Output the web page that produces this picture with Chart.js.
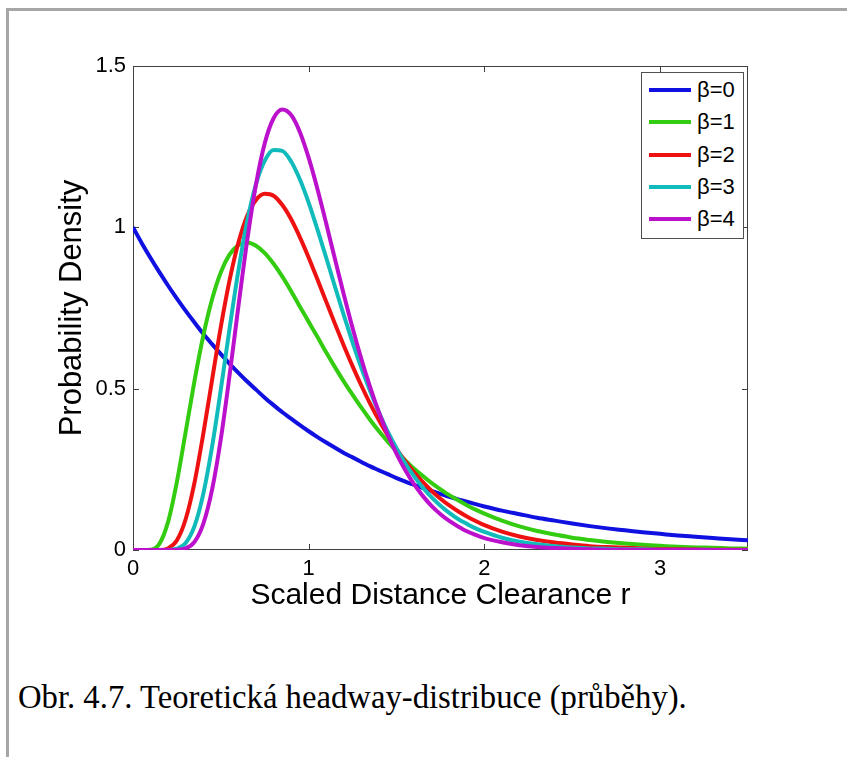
<!DOCTYPE html>
<html>
<head>
<meta charset="utf-8">
<script src="https://cdn.jsdelivr.net/npm/chart.js@4.4.1/dist/chart.umd.min.js"></script>
<style>
  html, body { margin: 0; padding: 0; background: #fff; overflow: hidden; }
  #page { position: relative; width: 847px; height: 757px; overflow: hidden; background: #fff; }
  .rule { position: absolute; background: #a6a6a6; }
  #ruleTop { left: 6px; top: 8px; width: 841px; height: 3px; }
  #ruleLeft { left: 6px; top: 8px; width: 3px; height: 749px; }
  #plot { position: absolute; left: 0; top: 0; }
  #legend { position: absolute; left: 641px; top: 72px; width: 101px; height: 165px;
            border: 1px solid #505050; background: #fff;
            font: 22px "Liberation Sans", Arial, sans-serif; color: #000; }
  .sw { position: absolute; left: 7px; width: 42px; height: 4px; }
  .lb { position: absolute; left: 55px; height: 26px; line-height: 26px; white-space: nowrap; }
  #caption { position: absolute; left: 18px; top: 681px; white-space: nowrap; color: #000;
             font: 32.7px/32px "Liberation Serif", "Times New Roman", serif; }
</style>
</head>
<body>
<div id="page">
  <div class="rule" id="ruleTop"></div>
  <div class="rule" id="ruleLeft"></div>
  <canvas id="plot" width="847" height="640"></canvas>
  <div id="legend"></div>
  <div id="caption">Obr. 4.7. Teoretická headway-distribuce (průběhy).</div>
</div>
<script>
// scaled distance clearance r
const xs = [0, 0.05, 0.1, 0.15, 0.2, 0.25, 0.3, 0.35, 0.4, 0.45, 0.5, 0.55, 0.6, 0.65, 0.7, 0.75,
  0.8, 0.85, 0.9, 0.95, 1, 1.05, 1.1, 1.15, 1.2, 1.25, 1.3, 1.35, 1.4, 1.45, 1.5, 1.55, 1.6, 1.65,
  1.7, 1.75, 1.8, 1.85, 1.9, 1.95, 2, 2.1, 2.2, 2.3, 2.4, 2.5, 2.6, 2.7, 2.8, 2.9, 3, 3.1, 3.2,
  3.3, 3.4, 3.5]

// probability density
const beta0 = [1, 0.951, 0.905, 0.861, 0.819, 0.779, 0.741, 0.705, 0.670, 0.638, 0.607, 0.577,
  0.549, 0.522, 0.497, 0.472, 0.449, 0.427, 0.407, 0.387, 0.368, 0.350, 0.333, 0.317, 0.301,
  0.287, 0.273, 0.259, 0.247, 0.235, 0.223, 0.212, 0.202, 0.192, 0.183, 0.174, 0.165, 0.157,
  0.150, 0.142, 0.135, 0.122, 0.111, 0.100, 0.091, 0.082, 0.074, 0.067, 0.061, 0.055, 0.050,
  0.045, 0.041, 0.037, 0.033, 0.030]
const beta1 = [0, 0, 0.001, 0.019, 0.088, 0.212, 0.367, 0.524, 0.664, 0.777, 0.861, 0.916,
  0.945, 0.953, 0.943, 0.920, 0.887, 0.847, 0.802, 0.754, 0.707, 0.660, 0.612, 0.566, 0.522,
  0.481, 0.441, 0.403, 0.368, 0.336, 0.306, 0.278, 0.252, 0.229, 0.207, 0.188, 0.170, 0.154,
  0.139, 0.125, 0.113, 0.091, 0.073, 0.059, 0.048, 0.038, 0.031, 0.025, 0.020, 0.016, 0.013,
  0.010, 0.008, 0.007, 0.005, 0.004]
const beta2 = [0, 0, 0, 0, 0.005, 0.030, 0.096, 0.209, 0.360, 0.527, 0.692, 0.837, 0.953,
  1.036, 1.085, 1.104, 1.098, 1.069, 1.025, 0.969, 0.906, 0.838, 0.769, 0.700, 0.633, 0.569,
  0.509, 0.453, 0.402, 0.355, 0.313, 0.275, 0.241, 0.210, 0.183, 0.159, 0.138, 0.120, 0.104,
  0.090, 0.077, 0.057, 0.042, 0.031, 0.023, 0.017, 0.012, 0.009, 0.007, 0.005, 0.003, 0.003,
  0.002, 0.001, 0.001, 0.001]
const beta3 = [0, 0, 0, 0, 0, 0.004, 0.022, 0.074, 0.174, 0.320, 0.498, 0.688, 0.867, 1.019,
  1.134, 1.207, 1.240, 1.237, 1.204, 1.148, 1.076, 0.993, 0.905, 0.815, 0.727, 0.643, 0.564,
  0.492, 0.426, 0.367, 0.315, 0.268, 0.228, 0.193, 0.163, 0.137, 0.115, 0.096, 0.081, 0.067,
  0.056, 0.038, 0.026, 0.018, 0.012, 0.008, 0.005, 0.004, 0.002, 0.002, 0.001, 0.001, 0.001,
  0, 0, 0]
const beta4 = [0, 0, 0, 0, 0, 0.001, 0.005, 0.025, 0.081, 0.187, 0.345, 0.543, 0.756, 0.960,
  1.133, 1.261, 1.338, 1.365, 1.348, 1.295, 1.215, 1.118, 1.011, 0.900, 0.791, 0.687, 0.591,
  0.504, 0.426, 0.357, 0.298, 0.247, 0.203, 0.167, 0.136, 0.111, 0.090, 0.073, 0.058, 0.047,
  0.037, 0.024, 0.015, 0.009, 0.006, 0.004, 0.002, 0.001, 0.001, 0, 0, 0, 0, 0, 0, 0]

const seriesLabels = ["β=0", "β=1", "β=2", "β=3", "β=4"]
const seriesColors = ["#1010e0", "#33cc11", "#ee1111", "#11bbbb", "#bb11cc"]
const seriesValues = [beta0, beta1, beta2, beta3, beta4]

const xTickValues = [0, 1, 2, 3]
const xTickLabels = ["0", "1", "2", "3"]
const yTickValues = [0, 0.5, 1, 1.5]
const yTickLabels = ["0", "0.5", "1", "1.5"]

const SANS = '"Liberation Sans", Arial, sans-serif'

// matlab-style box with ticks pointing inwards
const axesBox = {
  id: "axesBox",
  beforeDatasetsDraw(chart) {
    const { ctx, chartArea: a, scales: { x, y } } = chart
    ctx.save()
    ctx.strokeStyle = "#404040"
    ctx.lineWidth = 1
    ctx.strokeRect(a.left + 0.5, a.top + 0.5, a.right - a.left - 1, a.bottom - a.top - 1)
    ctx.beginPath()
    x.ticks.forEach(t => {
      const px = Math.round(x.getPixelForValue(t.value)) + 0.5
      ctx.moveTo(px, a.top); ctx.lineTo(px, a.top + 6)
      ctx.moveTo(px, a.bottom); ctx.lineTo(px, a.bottom - 6)
    })
    y.ticks.forEach(t => {
      const py = Math.round(y.getPixelForValue(t.value)) + 0.5
      ctx.moveTo(a.left, py); ctx.lineTo(a.left + 6, py)
      ctx.moveTo(a.right, py); ctx.lineTo(a.right - 6, py)
    })
    ctx.stroke()
    ctx.restore()
  }
}

const chart = new Chart(document.getElementById("plot"), {
  type: "line",
  data: {
    datasets: seriesValues.map((vals, i) => ({
      label: seriesLabels[i],
      data: xs.map((x, j) => ({ x, y: vals[j] })),
      borderColor: seriesColors[i],
      backgroundColor: seriesColors[i],
      borderWidth: 4,
      pointRadius: 0,
      fill: false,
      cubicInterpolationMode: "monotone",
      order: seriesValues.length - i
    }))
  },
  options: {
    responsive: false,
    animation: false,
    devicePixelRatio: 1,
    layout: { padding: { top: 66, right: 99, bottom: 26, left: 0 } },
    plugins: { legend: { display: false }, tooltip: { enabled: false } },
    scales: {
      x: {
        type: "linear", min: 0, max: 3.5,
        afterBuildTicks: s => { s.ticks = xTickValues.map(v => ({ value: v })) },
        afterFit: s => { s.height = 64 },
        grid: { display: false, drawTicks: false },
        border: { display: false },
        ticks: { padding: 6, color: "#000", autoSkip: false, maxRotation: 0,
                 font: { family: SANS, size: 22 }, callback: (v, i) => xTickLabels[i] },
        title: { display: true, text: "Scaled Distance Clearance r", color: "#000",
                 font: { family: SANS, size: 30 }, padding: { top: 0, bottom: 0 } }
      },
      y: {
        type: "linear", min: 0, max: 1.5,
        afterBuildTicks: s => { s.ticks = yTickValues.map(v => ({ value: v })) },
        afterFit: s => { s.width = 133 },
        grid: { display: false, drawTicks: false },
        border: { display: false },
        ticks: { padding: 7, color: "#000", autoSkip: false,
                 font: { family: SANS, size: 22 }, callback: (v, i) => yTickLabels[i] },
        title: { display: true, text: "Probability Density", color: "#000",
                 font: { family: SANS, size: 31 }, padding: { top: 54, bottom: 0 } }
      }
    }
  },
  plugins: [axesBox]
})

// legend box inside the axes, top right
const legend = document.getElementById("legend")
chart.data.datasets.forEach((d, i) => {
  const cy = 17 + i * 32.25
  const sw = document.createElement("div")
  sw.className = "sw"
  sw.style.top = (cy - 2) + "px"
  sw.style.background = d.borderColor
  const lb = document.createElement("div")
  lb.className = "lb"
  lb.style.top = (cy - 13) + "px"
  lb.textContent = d.label
  legend.appendChild(sw)
  legend.appendChild(lb)
})
</script>
</body>
</html>
